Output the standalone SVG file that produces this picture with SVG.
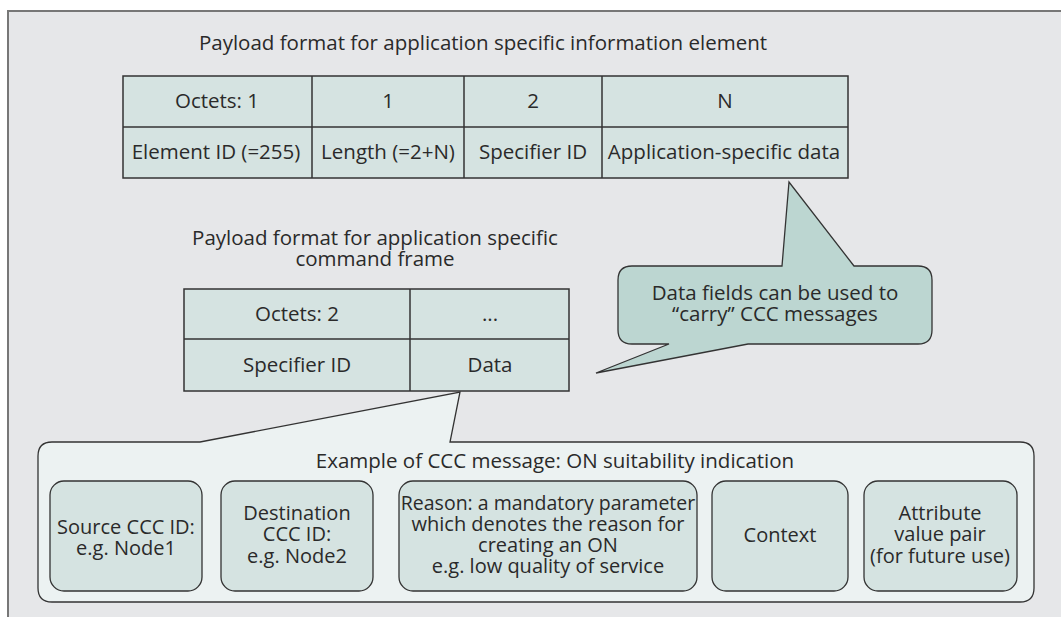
<svg xmlns="http://www.w3.org/2000/svg" width="1061" height="617" viewBox="0 0 1061 617">
<style>
text{font-family:"Open Sans","Noto Sans","Liberation Sans",sans-serif;font-size:20.5px;fill:#2a2a2a;text-anchor:middle}
.sm{font-size:20px}
.cell{fill:#d5e3e1;stroke:#333;stroke-width:1.5}
.box{fill:#d5e3e1;stroke:#333;stroke-width:1.3}
</style>
<rect x="0" y="0" width="1061" height="617" fill="#ffffff"/>
<rect x="8" y="11" width="1070" height="620" fill="#e6e7e9" stroke="#777" stroke-width="2"/>
<g id="title1"><text x="483" y="50">Payload format for application specific information element</text></g>
<g id="table1">
<rect class="cell" x="123" y="76" width="725" height="102"/>
<line x1="123" y1="127" x2="848" y2="127" stroke="#333" stroke-width="1.5"/>
<line x1="312" y1="76" x2="312" y2="178" stroke="#333" stroke-width="1.5"/>
<line x1="464" y1="76" x2="464" y2="178" stroke="#333" stroke-width="1.5"/>
<line x1="602" y1="76" x2="602" y2="178" stroke="#333" stroke-width="1.5"/>
<text x="217" y="108">Octets: 1</text>
<text x="388" y="108">1</text>
<text x="533" y="108">2</text>
<text x="725" y="108">N</text>
<text x="216" y="159">Element ID (=255)</text>
<text x="388" y="159">Length (=2+N)</text>
<text x="533" y="159">Specifier ID</text>
<text x="724" y="159">Application-specific data</text>
</g>
<g id="title2"><text x="375" y="245">Payload format for application specific</text><text x="375" y="266">command frame</text></g>
<g id="table2">
<rect class="cell" x="184" y="289" width="385" height="102"/>
<line x1="184" y1="339" x2="569" y2="339" stroke="#333" stroke-width="1.5"/>
<line x1="410" y1="289" x2="410" y2="391" stroke="#333" stroke-width="1.5"/>
<text x="297" y="321">Octets: 2</text>
<text x="490" y="321">...</text>
<text x="297" y="372">Specifier ID</text>
<text x="490" y="372">Data</text>
</g>
<g id="callout1">
<path d="M632,266 L782,266 L789,182 L854,266 L918,266 Q932,266 932,280 L932,330 Q932,344 918,344 L748,344 L596,373 L669,344 L632,344 Q618,344 618,330 L618,280 Q618,266 632,266 Z" fill="#bcd6d1" stroke="#333" stroke-width="1.3"/>
<text x="775" y="300">Data fields can be used to</text>
<text x="775" y="321">“carry” CCC messages</text>
</g>
<g id="callout2">
<path d="M52,442 L200,442 L460,392 L450,442 L1020,442 Q1034,442 1034,456 L1034,588 Q1034,602 1020,602 L52,602 Q38,602 38,588 L38,456 Q38,442 52,442 Z" fill="#ecf2f2" stroke="#333" stroke-width="1.3"/>
<text x="555" y="468">Example of CCC message: ON suitability indication</text>
</g>
<g id="box1"><rect class="box" x="50" y="481" width="152" height="110" rx="14"/>
<text class="sm" x="126" y="534">Source CCC ID:</text><text class="sm" x="126" y="555">e.g. Node1</text></g>
<g id="box2"><rect class="box" x="221" y="481" width="152" height="110" rx="14"/>
<text class="sm" x="297" y="520">Destination</text><text class="sm" x="297" y="541">CCC ID:</text><text class="sm" x="297" y="563">e.g. Node2</text></g>
<g id="box3"><rect class="box" x="399" y="481" width="298" height="110" rx="14"/>
<text class="sm" x="548" y="510" style="font-size:19.5px">Reason: a mandatory parameter</text><text class="sm" x="548" y="531">which denotes the reason for</text><text class="sm" x="548" y="552">creating an ON</text><text class="sm" x="548" y="573">e.g. low quality of service</text></g>
<g id="box4"><rect class="box" x="712" y="481" width="136" height="110" rx="14"/>
<text class="sm" x="780" y="542">Context</text></g>
<g id="box5"><rect class="box" x="864" y="481" width="153" height="110" rx="14"/>
<text class="sm" x="940" y="520">Attribute</text><text class="sm" x="940" y="541">value pair</text><text class="sm" x="940" y="563">(for future use)</text></g>
</svg>
